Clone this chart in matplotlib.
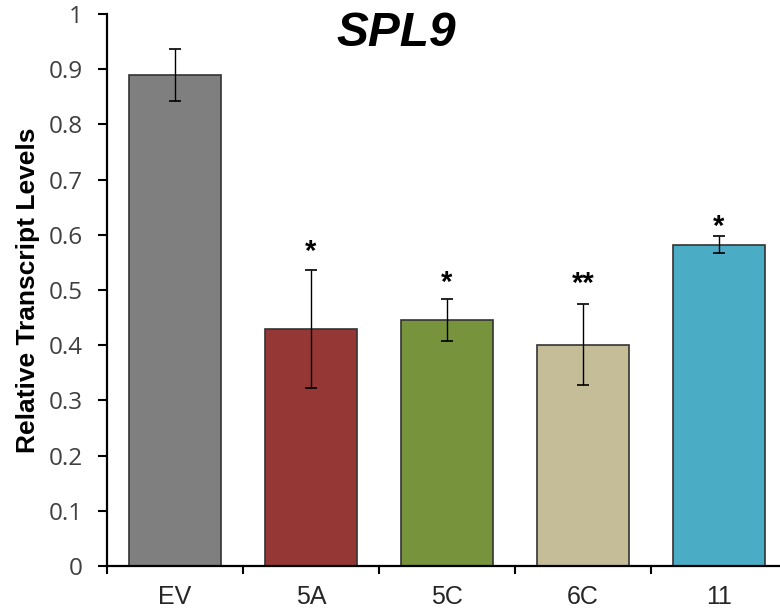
import matplotlib.pyplot as plt
import numpy as np

plt.rcParams["font.family"] = ["Liberation Sans", "DejaVu Sans"]

lines = ["EV", "5A", "5C", "6C", "11"]
levels = [0.889, 0.429, 0.446, 0.401, 0.582]
errors = [0.047, 0.107, 0.038, 0.074, 0.015]
stars = ["", "*", "*", "**", "*"]
colors = ["#7f7f7f", "#953735", "#77933c", "#c4bd97", "#4bacc6"]

fig = plt.figure(figsize=(7.8, 6.13), dpi=100)
ax = fig.add_axes([107 / 780, 1 - 566 / 613, 680 / 780, 552 / 613])

x = np.arange(len(lines))
ax.bar(x, levels, width=0.67, color=colors, edgecolor="#333333", linewidth=1.2, zorder=2)
ax.errorbar(x, levels, yerr=errors, fmt="none", ecolor="black", elinewidth=1,
            capsize=4.5, capthick=1.2, zorder=3)

# significance marks above the error bars
star_pad = [0, 0.018, 0.014, 0.021, 0.002]
for xi, v, e, s, p in zip(x, levels, errors, stars, star_pad):
    if s:
        ax.text(xi, v + e + p, s, ha="center", va="baseline", fontsize=21,
                fontweight="bold", color="black")

ax.set_xlim(-0.5, len(lines) - 0.5)
ax.set_ylim(0, 1)
ax.set_yticks(np.arange(0, 1.01, 0.1))
ax.set_yticklabels(["0"] + [f"{v:.1f}" for v in np.arange(0.1, 0.95, 0.1)] + ["1"])
for lab in ax.get_yticklabels():
    lab.set_fontfamily(["Open Sans", "DejaVu Sans"])
ax.set_xticks(x)
ax.set_xticklabels(lines)
ax.set_xticks(np.arange(-0.5, len(lines), 1), minor=True)

ax.tick_params(axis="y", direction="out", length=6.5, width=1.5, labelsize=17.5,
               labelcolor="#404040", pad=11)
ax.tick_params(axis="x", which="major", length=0, labelsize=18,
               labelcolor="#262626", pad=14)
ax.tick_params(axis="x", which="minor", direction="out", length=6, width=1.5)

for side in ["top", "right"]:
    ax.spines[side].set_visible(False)
for side in ["left", "bottom"]:
    ax.spines[side].set_linewidth(1.6)
    ax.spines[side].set_color("black")

ax.set_ylabel("Relative Transcript Levels", fontsize=19, fontweight="bold", labelpad=6)
fig.text(396 / 780, 1 - 33 / 613, "SPL9", ha="center", va="center", fontsize=34.5,
         fontweight="bold", fontstyle="italic")

plt.savefig("out.png", dpi=100)
